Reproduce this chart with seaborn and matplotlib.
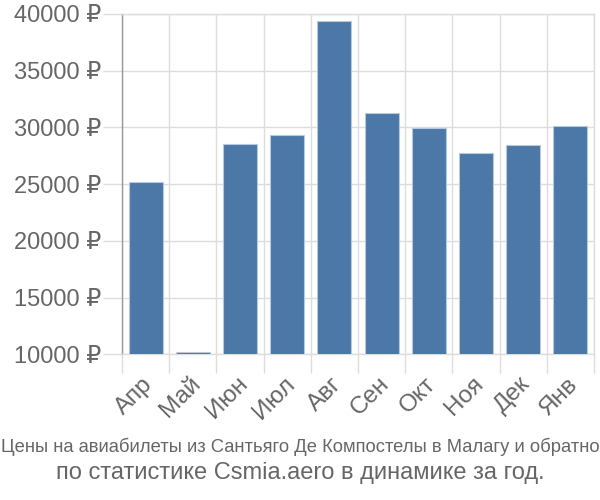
import matplotlib
matplotlib.use("Agg")
import matplotlib.pyplot as plt
import matplotlib.transforms as mtransforms
import seaborn as sns
import pandas as pd
import numpy as np

months = ["Апр", "Май", "Июн", "Июл", "Авг", "Сен", "Окт", "Ноя", "Дек", "Янв"]
prices = [25200, 10200, 28540, 29360, 39410, 31300, 29920, 27770, 28430, 30130]
yticks = [10000, 15000, 20000, 25000, 30000, 35000, 40000]
ytick_labels = [f"{v} ₽" for v in yticks]
title_line1 = "Цены на авиабилеты из Сантьяго Де Компостелы в Малагу и обратно"
title_line2 = "по статистике Csmia.aero в динамике за год."

sns.set_theme(style="white")
plt.rcParams['font.family'] = ['Liberation Sans', 'DejaVu Sans']

text_col = "#666666"
grid_col = "#dddddd"
bar_col = "#4c78a8"

df = pd.DataFrame({"month": months, "price": prices})

fig = plt.figure(figsize=(6, 5), dpi=100)
ax = fig.add_axes([0.2033, 0.2914, 0.7867, 0.6806])

sns.barplot(data=df, x="month", y="price", color=bar_col, saturation=1,
            width=0.72, edgecolor="#b7c9dc", linewidth=0.8, ax=ax, zorder=3)

ax.set_ylim(10000, 40000)
ax.set_xlim(-0.5, len(months) - 0.5)
ax.set_yticks(yticks)
ax.set_yticklabels(ytick_labels)
ax.set_xticks(range(len(months)))
ax.set_xticklabels(months, rotation=45, ha="right", va="center", rotation_mode="anchor")
ax.set_xticks(np.arange(-0.5, len(months)), minor=True)
ax.set_xlabel("")
ax.set_ylabel("")

ax.tick_params(axis="y", which="major", left=True, length=14, width=1, color=grid_col,
               labelsize=17, labelcolor=text_col, pad=1)
ax.tick_params(axis="x", which="major", bottom=True, length=0, labelsize=17.5,
               labelcolor=text_col, pad=19)
ax.tick_params(axis="x", which="minor", bottom=True, length=14, width=1, color=grid_col)

offset = mtransforms.ScaledTranslation(4 / 100, 0, fig.dpi_scale_trans)
for lbl in ax.get_xticklabels():
    lbl.set_transform(lbl.get_transform() + offset)

ax.grid(axis="y", which="major", color=grid_col, linewidth=1, zorder=0)
ax.grid(axis="x", which="minor", color=grid_col, linewidth=1, zorder=0)
ax.set_axisbelow(True)

for s in ["top", "right", "bottom"]:
    ax.spines[s].set_color(grid_col)
    ax.spines[s].set_linewidth(1)
ax.spines["left"].set_color("#999999")
ax.spines["left"].set_linewidth(1)

fig.text(0.5, 0.106, title_line1, ha="center", va="center", fontsize=13.2,
         color=text_col)
fig.text(0.5, 0.054, title_line2, ha="center", va="center", fontsize=17,
         color=text_col)

fig.savefig("out.png", dpi=100)
